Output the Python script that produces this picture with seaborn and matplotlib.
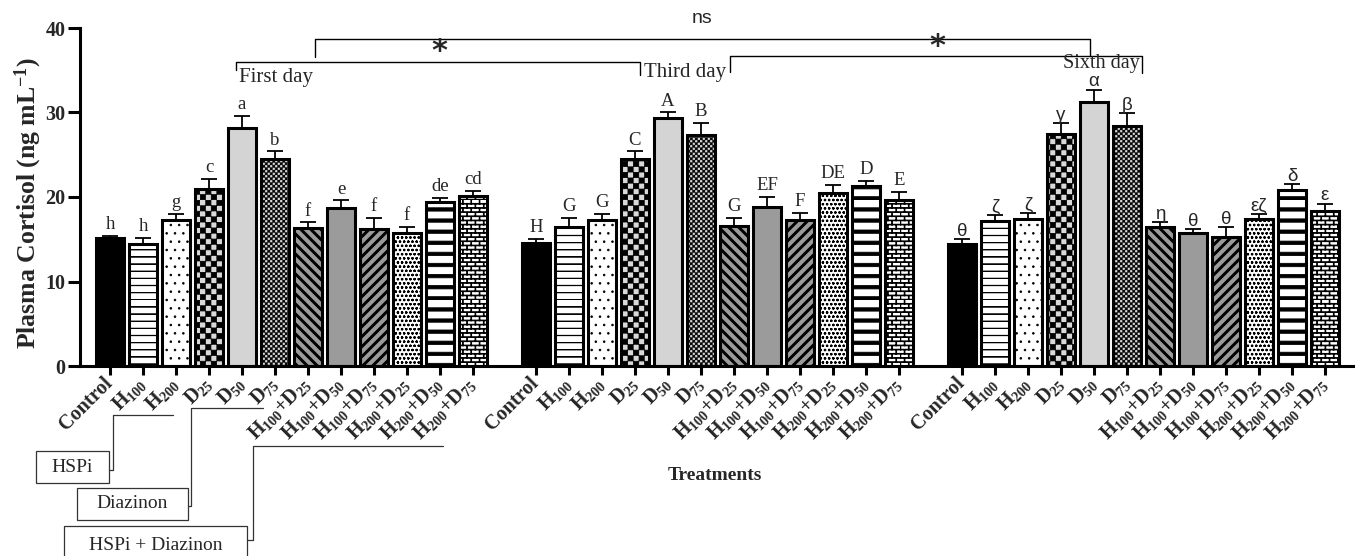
import warnings
import numpy as np
import pandas as pd
import matplotlib
matplotlib.use("Agg")
import matplotlib.pyplot as plt
from matplotlib import hatch as mhatch
from matplotlib.path import Path
from matplotlib.patches import Rectangle
from matplotlib.lines import Line2D
import seaborn as sns

warnings.filterwarnings("ignore", message=".*hatch.*")

# ---- data ----
treatments = ["Control", "H100", "H200", "D25", "D50", "D75",
              "H100+D25", "H100+D50", "H100+D75", "H200+D25", "H200+D50", "H200+D75"]
tick_labels = ["Control", "H$_{100}$", "H$_{200}$", "D$_{25}$", "D$_{50}$", "D$_{75}$",
               "H$_{100}$+D$_{25}$", "H$_{100}$+D$_{50}$", "H$_{100}$+D$_{75}$",
               "H$_{200}$+D$_{25}$", "H$_{200}$+D$_{50}$", "H$_{200}$+D$_{75}$"]
days = ["First day", "Third day", "Sixth day"]

day1_mean = [15.1, 14.4, 17.3, 21.0, 28.2, 24.5, 16.3, 18.7, 16.2, 15.7, 19.4, 20.1]
day1_sem = [0.3, 0.8, 0.7, 1.1, 1.4, 0.9, 0.7, 0.9, 1.3, 0.8, 0.5, 0.6]
day1_letters = ["h", "h", "g", "c", "a", "b", "f", "e", "f", "f", "de", "cd"]

day3_mean = [14.5, 16.5, 17.3, 24.5, 29.3, 27.3, 16.6, 18.8, 17.3, 20.5, 21.3, 19.6]
day3_sem = [0.5, 1.0, 0.7, 0.9, 0.7, 1.5, 0.9, 1.2, 0.8, 0.9, 0.6, 1.0]
day3_letters = ["H", "G", "G", "C", "A", "B", "G", "EF", "F", "DE", "D", "E"]

day6_mean = [14.4, 17.2, 17.4, 27.5, 31.3, 28.4, 16.4, 15.7, 15.3, 17.4, 20.8, 18.3]
day6_sem = [0.6, 0.7, 0.7, 1.2, 1.4, 1.5, 0.6, 0.5, 1.1, 0.6, 0.7, 0.9]
day6_letters = ["θ", "ζ", "ζ", "γ", "α", "β", "η", "θ", "θ", "εζ", "δ", "ε"]

bar_faces = ["black", "white", "white", "#d9d9d9", "#d4d4d4", "#d9d9d9",
             "#9b9b9b", "#9b9b9b", "#9b9b9b", "white", "white", "white"]
bar_hatches = [None, "=", "..", "#", None, "@", "[", None, "]", "oooo", "~", "&"]

GROUP_STRIDE = 12.91   # gap between the three days on the x axis
W, H = 1356, 556


# ---- extra hatch patterns (filled polygons in the unit hatch tile) ----
def _checker(n, s=0.0):
    return [[(i / n + s, j / n + s), ((i + 1) / n - s, j / n + s),
             ((i + 1) / n - s, (j + 1) / n - s), (i / n + s, (j + 1) / n - s)]
            for i in range(n) for j in range(n) if (i + j) % 2 == 0]


def _hbands(n, frac):
    return [[(0, k / n), (1, k / n), (1, (k + frac) / n), (0, (k + frac) / n)]
            for k in range(n)]


def _dbands(n, frac, sign):
    polys = []
    for k in range(-2 * n, 2 * n + 1):
        c0, c1 = k / n, (k + frac) / n
        if sign > 0:
            polys.append([(-0.5, c0 - 0.5), (1.5, c0 + 1.5), (1.5, c1 + 1.5), (-0.5, c1 - 0.5)])
        else:
            polys.append([(-0.5, c0 + 0.5), (1.5, c0 - 1.5), (1.5, c1 - 1.5), (-0.5, c1 + 0.5)])
    return polys


def _bricks(rows, cols, t):
    polys, h = [], 1 / rows
    for r in range(rows):
        y0 = r * h
        polys.append([(0, y0), (1, y0), (1, y0 + t), (0, y0 + t)])
        off = 0.5 * (r % 2) / cols
        for c in range(cols):
            x0 = c / cols + off
            polys.append([(x0, y0), (x0 + t, y0), (x0 + t, y0 + h), (x0, y0 + h)])
    return polys


class _PolyHatch(mhatch.HatchPatternBase):
    symbol = None
    polys = []

    def __init__(self, hatch, density):
        self.active = self.symbol in hatch
        self.num_vertices = sum(len(p) + 1 for p in self.polys) if self.active else 0

    def set_vertices_and_codes(self, vertices, codes):
        i = 0
        for p in self.polys:
            n = len(p)
            vertices[i:i + n] = p
            vertices[i + n] = p[0]
            codes[i] = Path.MOVETO
            codes[i + 1:i + n] = Path.LINETO
            codes[i + n] = Path.CLOSEPOLY
            i += n + 1


for sym, polys in [("#", _checker(18, 0.002)), ("@", _checker(40, 0.003)),
                   ("=", _hbands(14, 0.06)), ("~", _hbands(9, 0.3)),
                   ("[", _dbands(10, 0.3, -1)), ("]", _dbands(10, 0.3, 1)),
                   ("&", _bricks(24, 12, 0.008))]:
    mhatch._hatch_types.append(type(f"Hatch_{ord(sym)}", (_PolyHatch,),
                                    {"symbol": sym, "polys": polys}))

# ---- style ----
sns.set_style("ticks")
plt.rcParams["font.family"] = ["Liberation Serif", "DejaVu Serif"]
plt.rcParams["mathtext.default"] = "regular"
plt.rcParams["hatch.linewidth"] = 0.6

rows = []
for g, (m, s, lt) in enumerate([(day1_mean, day1_sem, day1_letters),
                                (day3_mean, day3_sem, day3_letters),
                                (day6_mean, day6_sem, day6_letters)]):
    for i, t in enumerate(treatments):
        rows.append({"day": days[g], "treatment": t, "idx": i,
                     "pos": i + g * GROUP_STRIDE, "cortisol": m[i], "sem": s[i],
                     "letter": lt[i], "group": g})
df = pd.DataFrame(rows)

fig = plt.figure(figsize=(W / 100, H / 100), dpi=100)
ax = fig.add_axes([80 / W, 1 - 366 / H, (1353 - 80) / W, (366 - 28) / H])

sns.barplot(data=df, x="pos", y="cortisol", native_scale=True, width=0.85,
            errorbar=None, color="white", saturation=1, edgecolor="black",
            linewidth=2.2, ax=ax)

bars = sorted(ax.patches, key=lambda p: p.get_x())
for bar, (_, r) in zip(bars, df.iterrows()):
    bar.set_facecolor(bar_faces[r["idx"]])
    bar.set_edgecolor("black")
    bar.set_linewidth(2.2)
    if bar_hatches[r["idx"]]:
        bar.set_hatch(bar_hatches[r["idx"]])

ax.errorbar(df["pos"], df["cortisol"], yerr=[np.zeros(len(df)), df["sem"]],
            fmt="none", ecolor="black", elinewidth=1.3, capsize=6, capthick=1.3,
            zorder=3)

for _, r in df.iterrows():
    greek = r["group"] == 2
    fam = ["Liberation Sans", "DejaVu Sans"] if greek else ["Liberation Serif"]
    ax.annotate(r["letter"], (r["pos"], r["cortisol"] + r["sem"]),
                xytext=(0, -0.5 if greek else 2), textcoords="offset points",
                ha="center", va="bottom", fontsize=13.5, family=fam,
                annotation_clip=False)

ax.set_xlim(-0.91, 37.67)
ax.set_ylim(0, 40)
ax.set_yticks([0, 10, 20, 30, 40])
ax.set_xticks(df["pos"], labels=tick_labels * 3)
for lbl in ax.get_xticklabels():
    lbl.set_rotation(45)
    lbl.set_ha("right")
    lbl.set_va("center")
    lbl.set_rotation_mode("anchor")
    lbl.set_fontsize(14.5)
    lbl.set_fontweight("bold")
for lbl in ax.get_yticklabels():
    lbl.set_fontsize(14.5)
    lbl.set_fontweight("bold")
ax.set_xlabel("")
ax.set_ylabel("")
ax.tick_params(axis="x", length=6.5, width=2.2, pad=4, color="black")
ax.tick_params(axis="y", length=8.5, width=2.2, pad=2, color="black")
for side in ["top", "right"]:
    ax.spines[side].set_visible(False)
for side in ["left", "bottom"]:
    ax.spines[side].set_linewidth(2.2)
    ax.spines[side].set_color("black")

# ---- day brackets and significance ----
line_kw = dict(color="black", lw=1.0, clip_on=False)
ax.plot([3.82, 3.82, 16.06, 16.06], [35.0, 35.98, 35.98, 34.4], **line_kw)
ax.plot([18.79, 18.79, 31.27, 31.27], [34.8, 36.7, 36.7, 34.7], **line_kw)
ax.plot([6.21, 6.21, 29.70, 29.70], [36.6, 38.7, 38.7, 36.7], **line_kw)
ax.text(3.9, 34.2, days[0], ha="left", va="center", fontsize=15)
ax.text(16.18, 34.7, days[1], ha="left", va="center", fontsize=15)
ax.text(31.2, 35.75, days[2], ha="right", va="center", fontsize=14.5)
ax.annotate("*", (9.97, 38.7), xytext=(0, -15), textcoords="offset points",
            ha="center", va="baseline", fontsize=22, fontweight="bold",
            family="DejaVu Sans", annotation_clip=False)
ax.annotate("*", (25.06, 38.7), xytext=(0, -11.5), textcoords="offset points",
            ha="center", va="baseline", fontsize=22, fontweight="bold",
            family="DejaVu Sans", annotation_clip=False)
ax.text(17.94, 41.1, "ns", ha="center", va="center", fontsize=14,
        family="Liberation Sans")

# ---- axis titles ----
fig.text(28 / W, 1 - 203 / H, "Plasma Cortisol (ng mL$^{-1}$)", rotation=90,
         ha="center", va="center", fontsize=18.5, fontweight="bold")
fig.text(715 / W, 1 - 476 / H, "Treatments", ha="center", va="center",
         fontsize=14, fontweight="bold")

# ---- legend boxes for treatment families ----
def fx(px):
    return px / W


def fy(py):
    return 1 - py / H


box_kw = dict(transform=fig.transFigure, fill=False, ec="#333333", lw=0.9)
conn_kw = dict(transform=fig.transFigure, color="#333333", lw=0.9)
legend_boxes = [("HSPi", 36, 451, 109, 483, 467,
                 [(109, 470), (113, 470), (113, 415), (173, 415)]),
                ("Diazinon", 77, 488, 188, 520, 504,
                 [(188, 506), (191, 506), (191, 408), (263, 408)]),
                ("HSPi + Diazinon", 64, 526, 247, 566, 545,
                 [(247, 540), (253, 540), (253, 446), (443, 446)])]
for label, x0, y0, x1, y1, ty, path in legend_boxes:
    fig.add_artist(Rectangle((fx(x0), fy(y1)), (x1 - x0) / W, (y1 - y0) / H, **box_kw))
    fig.add_artist(Line2D([fx(p[0]) for p in path], [fy(p[1]) for p in path], **conn_kw))
    fig.text(fx((x0 + x1) / 2), fy(ty), label, ha="center", va="center", fontsize=14)

fig.savefig("out.png", dpi=100)
